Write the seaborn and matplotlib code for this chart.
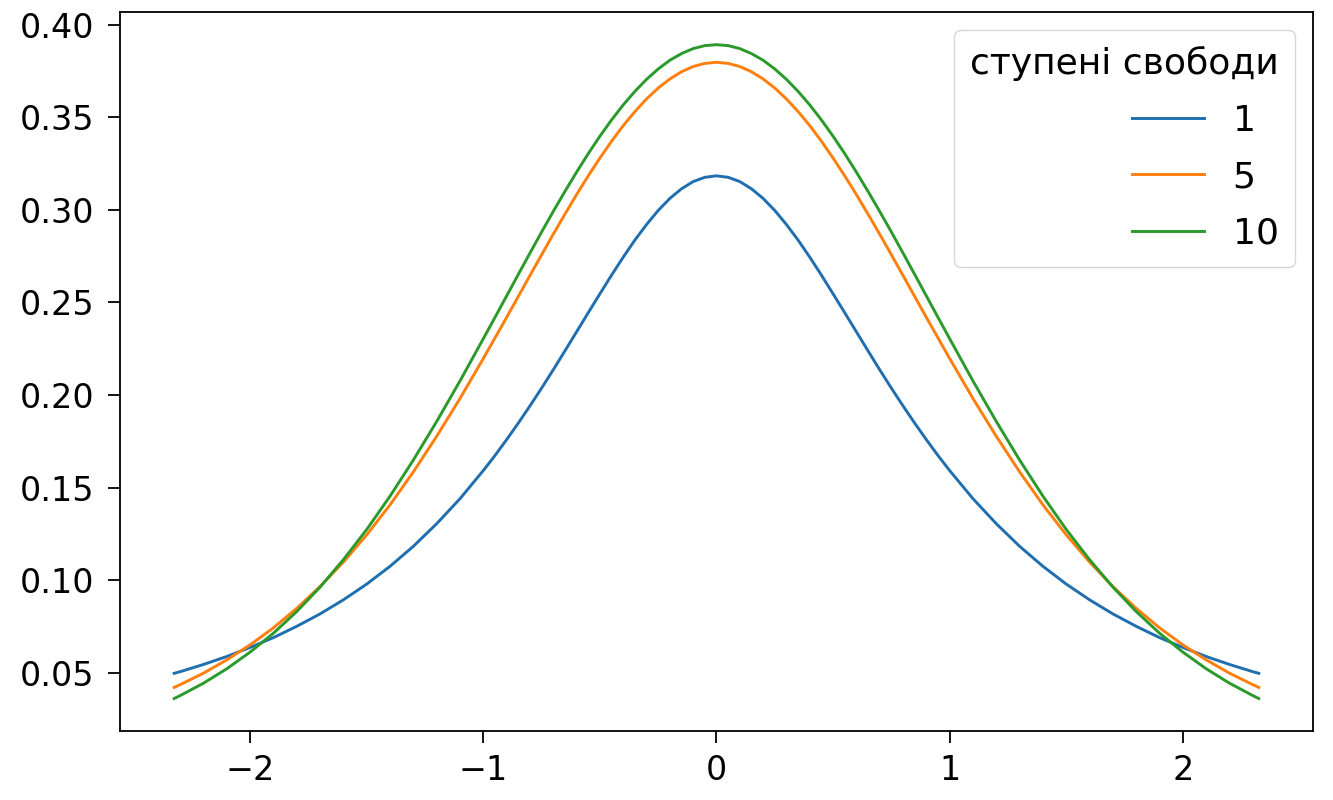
import matplotlib
matplotlib.use("Agg")
import matplotlib.pyplot as plt
import seaborn as sns
import pandas as pd

x_vals = [-2.326, -2.3, -2.2, -2.1, -2.0, -1.9, -1.8, -1.7, -1.6, -1.5, -1.4, -1.3, -1.2, -1.1,
          -1.0, -0.95, -0.9, -0.85, -0.8, -0.75, -0.7, -0.65, -0.6, -0.55, -0.5, -0.45,
          -0.4, -0.35, -0.3, -0.25, -0.2, -0.15, -0.1, -0.05, 0.0,
          0.05, 0.1, 0.15, 0.2, 0.25, 0.3, 0.35, 0.4, 0.45, 0.5, 0.55, 0.6, 0.65, 0.7,
          0.75, 0.8, 0.85, 0.9, 0.95, 1.0,
          1.1, 1.2, 1.3, 1.4, 1.5, 1.6, 1.7, 1.8, 1.9, 2.0, 2.1, 2.2, 2.3, 2.326]

df1 = [0.0497, 0.0506, 0.0545, 0.0588, 0.0637, 0.0690, 0.0751, 0.0818, 0.0894, 0.0979,
       0.1075, 0.1183, 0.1305, 0.1440,
       0.1592, 0.1673, 0.1759, 0.1848, 0.1941, 0.2037, 0.2136, 0.2238, 0.2341, 0.2444,
       0.2546, 0.2647, 0.2744, 0.2836, 0.2920, 0.2996, 0.3061, 0.3113, 0.3152, 0.3175,
       0.3183,
       0.3175, 0.3152, 0.3113, 0.3061, 0.2996, 0.2920, 0.2836, 0.2744, 0.2647, 0.2546,
       0.2444, 0.2341, 0.2238, 0.2136, 0.2037, 0.1941, 0.1848, 0.1759, 0.1673, 0.1592,
       0.1440, 0.1305, 0.1183, 0.1075, 0.0979, 0.0894, 0.0818, 0.0751, 0.0690, 0.0637,
       0.0588, 0.0545, 0.0506, 0.0497]

df5 = [0.0421, 0.0436, 0.0498, 0.0570, 0.0651, 0.0743, 0.0848, 0.0966, 0.1098, 0.1245,
       0.1407, 0.1585, 0.1777, 0.1981,
       0.2197, 0.2308, 0.2419, 0.2532, 0.2645, 0.2757, 0.2868, 0.2976, 0.3082, 0.3183,
       0.3279, 0.3370, 0.3454, 0.3530, 0.3598, 0.3657, 0.3706, 0.3745, 0.3773, 0.3790,
       0.3796,
       0.3790, 0.3773, 0.3745, 0.3706, 0.3657, 0.3598, 0.3530, 0.3454, 0.3370, 0.3279,
       0.3183, 0.3082, 0.2976, 0.2868, 0.2757, 0.2645, 0.2532, 0.2419, 0.2308, 0.2197,
       0.1981, 0.1777, 0.1585, 0.1407, 0.1245, 0.1098, 0.0966, 0.0848, 0.0743, 0.0651,
       0.0570, 0.0498, 0.0436, 0.0421]

df10 = [0.0361, 0.0377, 0.0444, 0.0522, 0.0612, 0.0714, 0.0831, 0.0963, 0.1111, 0.1274,
        0.1454, 0.1649, 0.1857, 0.2076,
        0.2304, 0.2419, 0.2535, 0.2651, 0.2766, 0.2880, 0.2991, 0.3099, 0.3203, 0.3303,
        0.3397, 0.3485, 0.3566, 0.3639, 0.3704, 0.3760, 0.3807, 0.3843, 0.3870, 0.3886,
        0.3891,
        0.3886, 0.3870, 0.3843, 0.3807, 0.3760, 0.3704, 0.3639, 0.3566, 0.3485, 0.3397,
        0.3303, 0.3203, 0.3099, 0.2991, 0.2880, 0.2766, 0.2651, 0.2535, 0.2419, 0.2304,
        0.2076, 0.1857, 0.1649, 0.1454, 0.1274, 0.1111, 0.0963, 0.0831, 0.0714, 0.0612,
        0.0522, 0.0444, 0.0377, 0.0361]

series_labels = ["1", "5", "10"]
legend_title = "ступені свободи"
x_ticks = [-2, -1, 0, 1, 2]
y_ticks = [0.05, 0.10, 0.15, 0.20, 0.25, 0.30, 0.35, 0.40]

frames = []
for lab, vals in zip(series_labels, [df1, df5, df10]):
    frames.append(pd.DataFrame({"x": x_vals, "y": vals, "df": lab}))
data = pd.concat(frames, ignore_index=True)

plt.rcParams["font.family"] = ["DejaVu Sans"]
plt.rcParams["font.size"] = 24

fig = plt.figure(figsize=(13.33, 8), dpi=100)
ax = fig.add_axes([0.090, 0.086, 0.895, 0.899])

palette = ["#1f6fb0", "#ff7f0e", "#2a9a2a"]
sns.lineplot(data=data, x="x", y="y", hue="df", hue_order=series_labels,
             palette=palette, linewidth=2.1, ax=ax, sort=False)

ax.set_xlabel("")
ax.set_ylabel("")
ax.set_xticks(x_ticks)
ax.set_yticks(y_ticks)
ax.tick_params(labelsize=24, length=8.6, width=1.3)
ax.tick_params(axis="y", pad=10)
ax.tick_params(axis="x", pad=8)
for s in ax.spines.values():
    s.set_linewidth(1.3)

leg = ax.legend(title=legend_title, loc="upper right", fontsize=26, title_fontsize=26,
                alignment="right", handlelength=2.0, borderpad=0.45, labelspacing=0.62)

fig.savefig("out.png", dpi=100)
